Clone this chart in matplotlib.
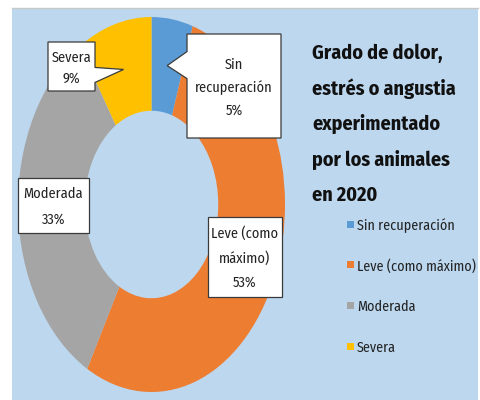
import matplotlib
matplotlib.use("Agg")
import numpy as np
import matplotlib.pyplot as plt
from matplotlib import font_manager as fm
from matplotlib.textpath import TextPath
from matplotlib.patches import Rectangle, Polygon

categorias = ["Sin recuperación", "Leve (como máximo)", "Moderada", "Severa"]
porcentajes = [5, 53, 33, 9]
etiquetas = [["Sin", "recuperación", "5%"], ["Leve (como", "máximo)", "53%"],
             ["Moderada", "33%"], ["Severa", "9%"]]
colores = ["#5B9BD5", "#ED7D31", "#A5A5A5", "#FFC000"]
titulo = ["Grado de dolor,", "estrés o angustia", "experimentado", "por los animales", "en 2020"]

# la original es Calibri estirada en vertical: usar una fuente estrecha
preferidas = ["Fira Sans Condensed", "PT Sans Narrow", "Roboto Condensed",
              "Open Sans Condensed", "Cabin Condensed", "Encode Sans Condensed", "Lato"]
nombres = {f.name for f in fm.fontManager.ttflist}
fam = next((p for p in preferidas if p in nombres), "DejaVu Sans")
fp_reg = fm.FontProperties(family=fam)
fp_bold = fm.FontProperties(family=fam, weight="bold")

DPI = 100
def ancho_px(texto, fp, size=10):
    return TextPath((0, 0), texto, size=size, prop=fp).get_extents().width * DPI / 72

# tamaños ajustados al ancho de los textos de la imagen
fs_lab = 10 * 75 / ancho_px("recuperación", fp_reg)
fs_tit = 10 * 142 / ancho_px("estrés o angustia", fp_bold)
fs_leg = 10 * 117 / ancho_px("Leve (como máximo)", fp_reg)

FONDO = "#BDD7EE"
W, H = 480, 400
fig = plt.figure(figsize=(4.8, 4.0), dpi=DPI, facecolor="white")

# capa en pixeles para fondo, cajas y textos
capa = fig.add_axes([0, 0, 1, 1], zorder=0)
capa.set_xlim(0, W)
capa.set_ylim(H, 0)
capa.axis("off")
capa.add_patch(Rectangle((12, 8), 466, 400, facecolor=FONDO, edgecolor="none"))
capa.plot([12, 478], [8, 8], color="#C8C8C8", lw=1)

# donut (elipse, como en la imagen estirada)
cx, cy, rx, ry = 151.5, 204.5, 133.5, 187.5
ax = fig.add_axes([(cx - rx) / W, (H - cy - ry) / H, 2 * rx / W, 2 * ry / H], zorder=1)
ax.set_facecolor("none")
wedges, _ = ax.pie(porcentajes, colors=colores, startangle=90, counterclock=False,
                   wedgeprops=dict(width=0.5, edgecolor="none"))
ax.set_xlim(-1, 1)
ax.set_ylim(-1, 1)
ax.set_aspect("auto")
ax.axis("off")

capa2 = fig.add_axes([0, 0, 1, 1], zorder=2)
capa2.set_xlim(0, W)
capa2.set_ylim(H, 0)
capa2.axis("off")

# cajas de etiqueta: (x0, y0, x1, y1), lado del puntero
cajas = [(187, 34, 281, 138, "izq"), (208, 217, 282, 297, None),
         (18, 178, 89, 233, None), (48, 42, 95, 91, "der")]
paso = [23, 24.5, 26, 21]
acum = 0
for i, pct in enumerate(porcentajes):
    ang = np.deg2rad(90 - (acum + pct / 2) * 3.6)
    acum += pct
    tx, ty = cx + 0.75 * rx * np.cos(ang), cy - 0.75 * ry * np.sin(ang)
    x0, y0, x1, y1, lado = cajas[i]
    if lado == "izq":
        pts = [(x0, y0), (x1, y0), (x1, y1), (x0, y1), (x0, ty + 13), (tx, ty), (x0, ty - 14)]
    elif lado == "der":
        pts = [(x0, y0), (x1, y0), (x1, ty - 2), (tx, ty), (x1, ty + 13), (x1, y1), (x0, y1)]
    else:
        pts = [(x0, y0), (x1, y0), (x1, y1), (x0, y1)]
    capa2.add_patch(Polygon(pts, closed=True, facecolor="white", edgecolor="#3A3A3A", lw=0.9))
    n = len(etiquetas[i])
    for k, linea in enumerate(etiquetas[i]):
        yk = (y0 + y1) / 2 + (k - (n - 1) / 2) * paso[i]
        capa2.text((x0 + x1) / 2, yk, linea, ha="center", va="center_baseline",
                   fontproperties=fp_reg, fontsize=fs_lab, color="#222222")

for k, linea in enumerate(titulo):
    capa2.text(312, 51 + k * 35.5, linea, ha="left", va="center_baseline",
               fontproperties=fp_bold, fontsize=fs_tit, color="#111111")

# leyenda
for k, nombre in enumerate(categorias):
    yk = 224 + k * 40.7
    capa2.add_patch(Rectangle((347, yk - 3.5), 7, 7, facecolor=wedges[k].get_facecolor(),
                              edgecolor="none"))
    capa2.text(357, yk, nombre, ha="left", va="center_baseline", fontproperties=fp_reg,
               fontsize=fs_leg, color="#222222")

fig.savefig("out.png", dpi=DPI, facecolor="white")
